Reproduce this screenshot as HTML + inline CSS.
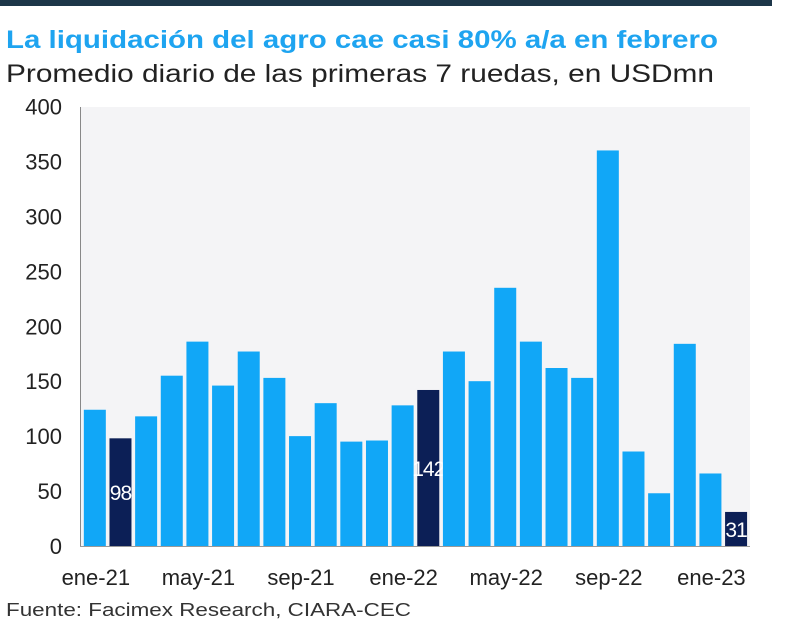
<!DOCTYPE html>
<html><head><meta charset="utf-8"><style>
body{margin:0;width:800px;height:623px;background:#fff;overflow:hidden;font-family:"Liberation Sans",sans-serif}
</style></head><body>
<svg width="800" height="623" xmlns="http://www.w3.org/2000/svg">
<rect x="0" y="0" width="772" height="6" fill="#1d3649"/>
<text x="6" y="48" font-size="25" font-weight="bold" fill="#1ea4f0" textLength="712" lengthAdjust="spacingAndGlyphs">La liquidación del agro cae casi 80% a/a en febrero</text>
<text x="6" y="82" font-size="25" fill="#222" textLength="708" lengthAdjust="spacingAndGlyphs">Promedio diario de las primeras 7 ruedas, en USDmn</text>
<rect x="81" y="107" width="669" height="439" fill="#f4f4f6"/>
<g id="yaxis"></g>
<g id="bars"></g>
<g id="xaxis"></g>
<line x1="80.5" y1="107" x2="80.5" y2="547" stroke="#888" stroke-width="1"/>
<line x1="80" y1="546.5" x2="750" y2="546.5" stroke="#999" stroke-width="1"/>
<text x="6" y="616" font-size="18" fill="#333" textLength="405" lengthAdjust="spacingAndGlyphs">Fuente: Facimex Research, CIARA-CEC</text>
</svg>
<script>
const categories=["ene-21","feb-21","mar-21","abr-21","may-21","jun-21","jul-21","ago-21","sep-21","oct-21","nov-21","dic-21","ene-22","feb-22","mar-22","abr-22","may-22","jun-22","jul-22","ago-22","sep-22","oct-22","nov-22","dic-22","ene-23","feb-23"];
const values=[124,98,118,155,186,146,177,153,100,130,95,96,128,142,177,150,235,186,162,153,360,86,48,184,66,31];
const highlighted=["feb-21","feb-22","feb-23"];
const yTicks=[0,50,100,150,200,250,300,350,400];
const xTickLabels=["ene-21","may-21","sep-21","ene-22","may-22","sep-22","ene-23"];
const NS="http://www.w3.org/2000/svg";
const x0=81,slot=25.65,y0=546,yTop=106.5,ymax=400;
const ys=v=>y0-(v/ymax)*(y0-yTop);
const xc=i=>x0+slot*i+slot/2+1;
const ya=document.getElementById('yaxis'),bg=document.getElementById('bars'),xa=document.getElementById('xaxis');
yTicks.forEach(t=>{
 const tx=document.createElementNS(NS,'text');
 
 
 tx.setAttribute('x',62);tx.setAttribute('y',ys(t)+8);tx.setAttribute('text-anchor','end');
 tx.setAttribute('font-size','22');tx.setAttribute('fill','#222');tx.textContent=t;ya.appendChild(tx);
});
values.forEach((v,i)=>{
 const hi=highlighted.includes(categories[i]);
 const r=document.createElementNS(NS,'rect');
 
 
 const w=22;
 r.setAttribute('x',xc(i)-w/2);r.setAttribute('width',w);
 r.setAttribute('y',ys(v));r.setAttribute('height',y0-ys(v));
 r.setAttribute('fill',hi?'#0c1f56':'#11a7f7');bg.appendChild(r);
 if(hi){
  const t=document.createElementNS(NS,'text');
  
  
  t.setAttribute('x',xc(i));t.setAttribute('y',(ys(v)+y0)/2+8);
  t.setAttribute('text-anchor','middle');t.setAttribute('font-size','21');t.setAttribute('fill','#fff');
  t.setAttribute('letter-spacing','-1');
  t.textContent=v;bg.appendChild(t);
 }
});
xTickLabels.forEach(l=>{
 const i=categories.indexOf(l);
 const t=document.createElementNS(NS,'text');
 
 
 t.setAttribute('x',xc(i)+1);t.setAttribute('y',585);t.setAttribute('text-anchor','middle');
 t.setAttribute('font-size','22');t.setAttribute('fill','#222');t.textContent=l;xa.appendChild(t);
});
</script>
</body></html>
